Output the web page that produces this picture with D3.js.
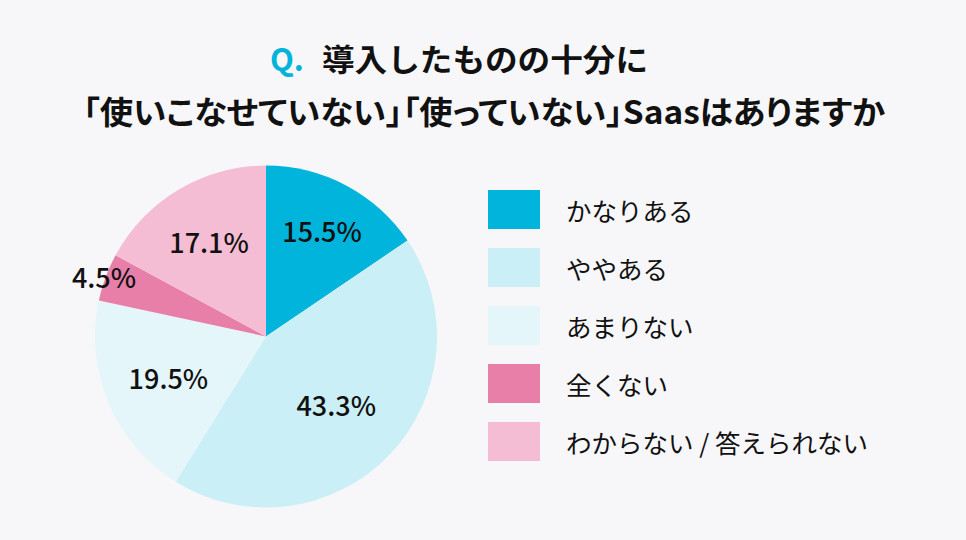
<!DOCTYPE html>
<html><head><meta charset="utf-8">
<script src="https://cdn.jsdelivr.net/npm/d3@7"></script>
<style>
html,body{margin:0;padding:0;background:#f7f7f9;}
svg{display:block;font-family:"Noto Sans CJK JP","Noto Sans",sans-serif;}
.palt{font-feature-settings:"palt";}
</style></head>
<body><svg id="c" width="966" height="540"></svg>
<script>
const categories = ["かなりある","ややある","あまりない","全くない","わからない / 答えられない"];
const values = [15.5, 43.3, 19.5, 4.5, 17.1];
const colors = ["#00b4db","#cbeff7","#e5f6fb","#e77fa9","#f5bdd3"];
const labelRadius = [0.70, 0.57, 0.62, 1.01, 0.65];
const titleQ = "Q.";
const titleLine1 = "導入したものの十分に";
const titleLine2 = "「使いこなせていない」「使っていない」Saasはありますか";

const svg = d3.select("#c");
svg.append("rect").attr("width",966).attr("height",540).attr("fill","#f7f7f9");

// title
svg.append("text").attr("x",270).attr("y",57).attr("dominant-baseline","central")
  .attr("font-size",31).attr("font-weight",700).attr("fill","#00b4db").text(titleQ);
const t1 = svg.append("text").attr("x",322).attr("y",57).attr("dominant-baseline","central")
  .attr("font-size",31).attr("font-weight",700).attr("fill","#111").text(titleLine1);
const t2 = svg.append("text").attr("class","palt").attr("x",83).attr("y",110).attr("dominant-baseline","central")
  .attr("font-size",32).attr("font-weight",700).attr("fill","#111").text(titleLine2);
function fit(t, w){ const l=t.node().getComputedTextLength(); if(Math.abs(l-w)>4){t.attr("textLength",w).attr("lengthAdjust","spacingAndGlyphs");} }
fit(t1, 326); fit(t2, 802);

// pie
const cx = 266, cy = 336.5, R = 171;
const pie = d3.pie().sort(null).value(d=>d.v);
const data = pie(values.map((v,i)=>({v, i})));
const arc = d3.arc().innerRadius(0).outerRadius(R);
const g = svg.append("g").attr("transform",`translate(${cx},${cy})`);
g.selectAll("path").data(data).join("path").attr("d",arc).attr("fill",(d,i)=>colors[i]);
g.selectAll("text").data(data).join("text")
  .attr("transform",(d,i)=>{ const a=(d.startAngle+d.endAngle)/2, r=R*labelRadius[i]; return `translate(${Math.sin(a)*r},${-Math.cos(a)*r})`; })
  .attr("text-anchor","middle").attr("dominant-baseline","central")
  .attr("font-size",27).attr("font-weight",500).attr("fill","#111").text(d=>d.data.v.toFixed(1)+"%");

// legend
const ly = d3.scaleBand().domain(categories).range([190, 190+58*5]).paddingInner(0);
const lg = svg.append("g");
const items = lg.selectAll("g").data(categories).join("g").attr("transform",d=>`translate(488,${ly(d)})`);
items.append("rect").attr("width",52).attr("height",39).attr("fill",(d,i)=>colors[i]);
items.append("text").attr("x",78).attr("y",19.5).attr("dominant-baseline","central")
  .attr("font-size",25.5).attr("fill","#111").text(d=>d);
</script></body></html>
